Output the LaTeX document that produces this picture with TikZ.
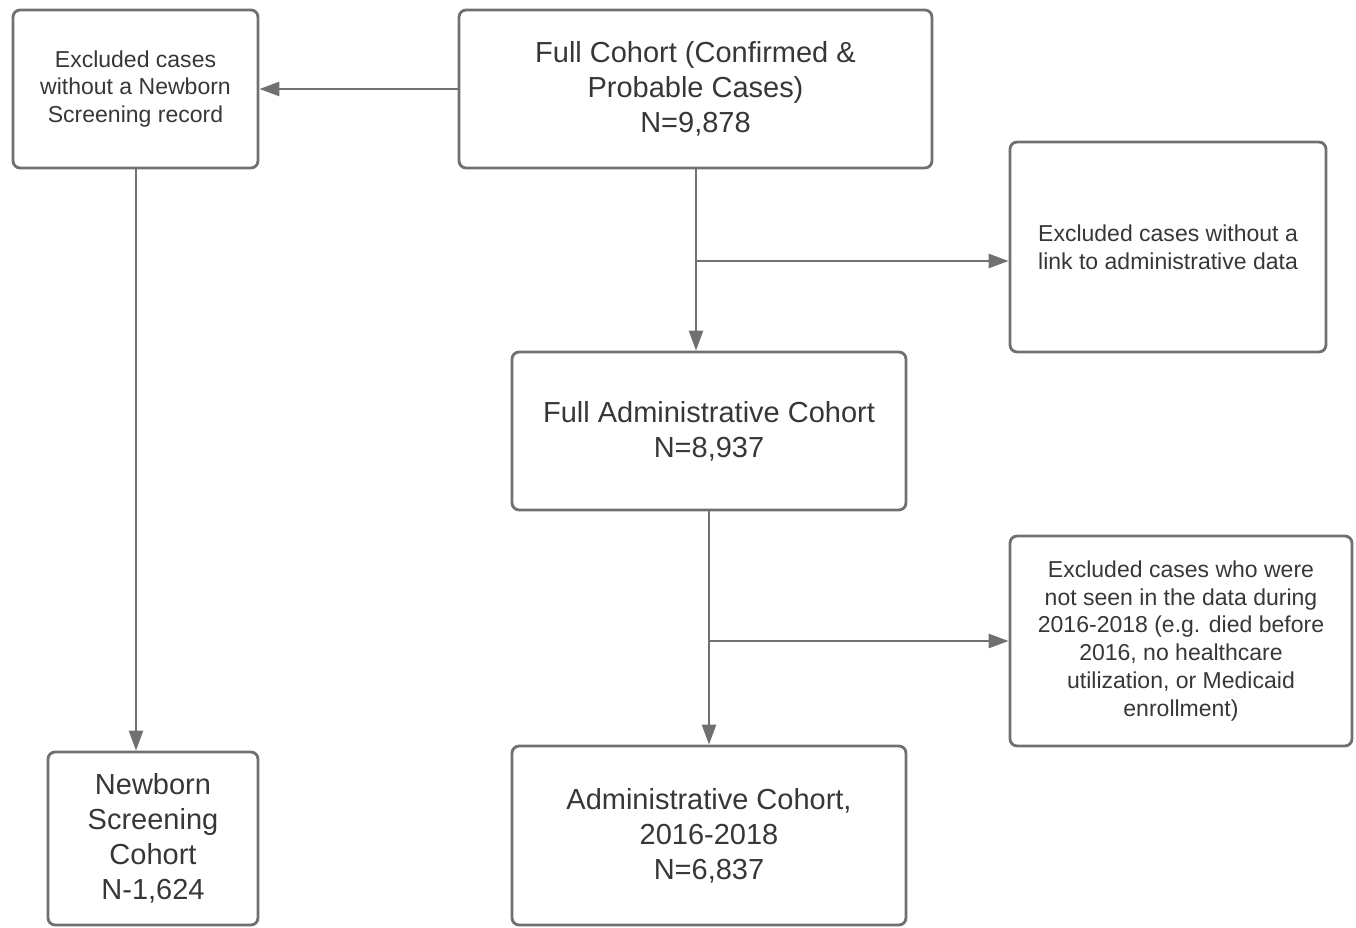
\documentclass[tikz,border=0pt]{standalone}
\usepackage{fontspec}
\setmainfont{Liberation Sans}
\usepackage{tikz}
\usetikzlibrary{arrows.meta,calc}
\definecolor{linegray}{RGB}{112,112,112}
\definecolor{textgray}{RGB}{55,55,55}

\begin{document}
\begin{tikzpicture}[x=0.02cm,y=-0.02cm,
    every node/.style={text=textgray},
    box/.style={draw=linegray,line width=1.6pt,rounded corners=4pt,align=center,inner sep=0pt,font=\fontsize{16.5}{19.9}\selectfont},
    exbox/.style={box,font=\fontsize{13.1}{15.9}\selectfont},
    flow/.style={-{Triangle[length=4mm,width=2.8mm]},draw=linegray,line width=1.5pt}]
    \useasboundingbox (0,0) rectangle (1356,928);
    % boxes
    \node[exbox,minimum width=4.9cm,minimum height=3.16cm] (exnbs) at (135.5,89) {Excluded cases\\without a Newborn\\Screening record};
    \node[box,minimum width=9.46cm,minimum height=3.16cm] (full) at (695.5,89) {Full Cohort (Confirmed \&\\Probable Cases)\\N=9,878};
    \node[exbox,minimum width=6.32cm,minimum height=4.2cm] (exlink) at (1168,247) {Excluded cases without a\\link to administrative data};
    \node[box,minimum width=7.88cm,minimum height=3.16cm] (fulladm) at (709,431) {Full Administrative Cohort\\N=8,937};
    \node[exbox,minimum width=6.84cm,minimum height=4.2cm] (exseen) at (1181,641) {Excluded cases who were\\not seen in the data during\\2016-2018 (e.g. died before\\2016, no healthcare\\utilization, or Medicaid\\enrollment)};
    \node[box,minimum width=4.2cm,minimum height=3.46cm] (nbs) at (153,838.5) {Newborn\\Screening\\Cohort\\N-1,624};
    \node[box,minimum width=7.88cm,minimum height=3.58cm] (adm) at (709,835.5) {Administrative Cohort,\\2016-2018\\N=6,837};
    % branch points
    \coordinate (br1) at (696,261);
    \coordinate (br2) at (709,641);
    % connectors
    \draw[flow] (full.west) -- (exnbs.east);
    \draw[flow] (exnbs.south -| 136,0) -- (nbs.north -| 136,0);
    \draw[flow] (full.south -| br1) -- (fulladm.north -| br1);
    \draw[flow] (br1) -- (br1 -| exlink.west);
    \draw[flow] (fulladm.south -| br2) -- (adm.north -| br2);
    \draw[flow] (br2) -- (br2 -| exseen.west);
  \end{tikzpicture}
\end{document}
